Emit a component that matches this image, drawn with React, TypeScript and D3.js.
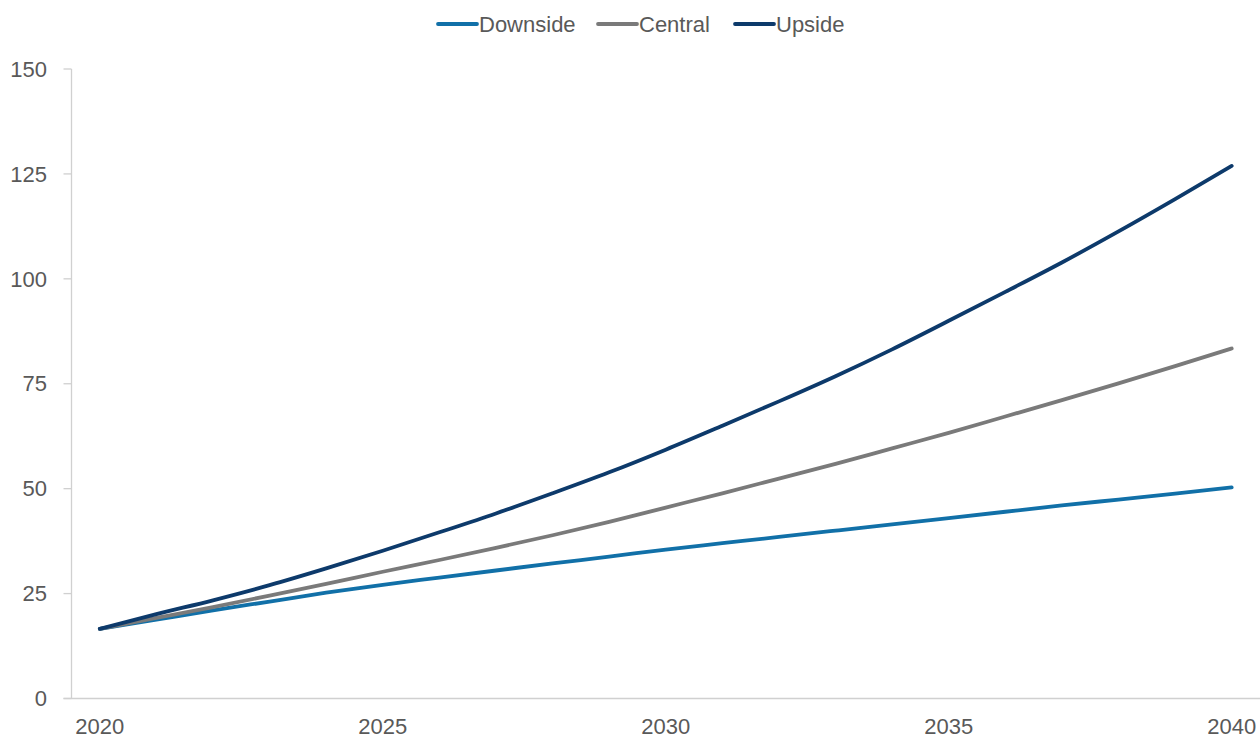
import React from 'react';
import * as d3 from 'd3';

const years = d3.range(2020, 2041);
const downside = [16.6, 18.8, 21.0, 23.1, 25.2, 27.1, 28.8, 30.5, 32.2, 33.8, 35.5, 37.0, 38.5, 40.0, 41.5, 43.0, 44.5, 46.0, 47.4, 48.8, 50.3];
const central = [16.6, 19.2, 21.8, 24.5, 27.3, 30.2, 33.0, 35.9, 38.9, 42.1, 45.5, 48.9, 52.4, 55.9, 59.6, 63.3, 67.2, 71.1, 75.1, 79.2, 83.4];
const upside = [16.6, 20.1, 23.4, 27.0, 31.0, 35.2, 39.6, 44.1, 48.9, 53.9, 59.3, 65.0, 70.8, 76.8, 83.2, 90.0, 96.9, 103.9, 111.3, 119.0, 126.9];
const yTicks = [0, 25, 50, 75, 100, 125, 150];
const xLabels = [2020, 2025, 2030, 2035, 2040];

const series = [
  { name: 'Downside', values: downside, color: '#1170A8' },
  { name: 'Central', values: central, color: '#7A7A7A' },
  { name: 'Upside', values: upside, color: '#0D3A6B' },
];

const W = 1260;
const H = 740;
const left = 71.5;
const right = 1260;
const top = 69;
const bottom = 698.5;
const font = '"Liberation Sans", Arial, sans-serif';
const textColor = '#595959';
const axisColor = '#D0D0D0';

export default function App() {
  const x = d3.scaleBand<number>().domain(years).range([left, right]);
  const y = d3.scaleLinear().domain([0, 150]).range([bottom, top]);
  const cx = (yr: number) => (x(yr) ?? 0) + x.bandwidth() / 2;

  const line = d3
    .line<number>()
    .x((_, i) => cx(years[i]))
    .y((d) => y(d))
    .curve(d3.curveMonotoneX);

  // legend layout
  const legendX = [438, 598, 735];

  return (
    <svg
      width={W}
      height={H}
      style={{ position: 'absolute', left: 0, top: 0, background: '#fff' }}
      fontFamily={font}
    >
      {/* y axis */}
      <line x1={left} x2={left} y1={top} y2={bottom} stroke={axisColor} strokeWidth={1.3} />
      {yTicks.map((t) => (
        <g key={t}>
          <line x1={left - 8} x2={left} y1={y(t)} y2={y(t)} stroke={axisColor} strokeWidth={1.3} />
          <text x={47} y={y(t)} dy="0.35em" textAnchor="end" fontSize={22} fill={textColor}>
            {t}
          </text>
        </g>
      ))}
      {/* x axis */}
      <line x1={left - 8} x2={right} y1={bottom} y2={bottom} stroke={axisColor} strokeWidth={1.3} />
      {xLabels.map((yr) => (
        <text key={yr} x={cx(yr)} y={734} textAnchor="middle" fontSize={22} fill={textColor}>
          {yr}
        </text>
      ))}
      {/* series */}
      {series.map((s) => (
        <path
          key={s.name}
          d={line(s.values) ?? ''}
          fill="none"
          stroke={s.color}
          strokeWidth={3.8}
          strokeLinecap="round"
          strokeLinejoin="round"
        />
      ))}
      {/* legend */}
      {series.map((s, i) => (
        <g key={s.name} transform={`translate(${legendX[i]},24)`}>
          <line x1={0} x2={39} y1={0} y2={0} stroke={s.color} strokeWidth={3.8} strokeLinecap="round" />
          <text x={41} y={0} dy="0.35em" fontSize={22} fill={textColor}>
            {s.name}
          </text>
        </g>
      ))}
    </svg>
  );
}
